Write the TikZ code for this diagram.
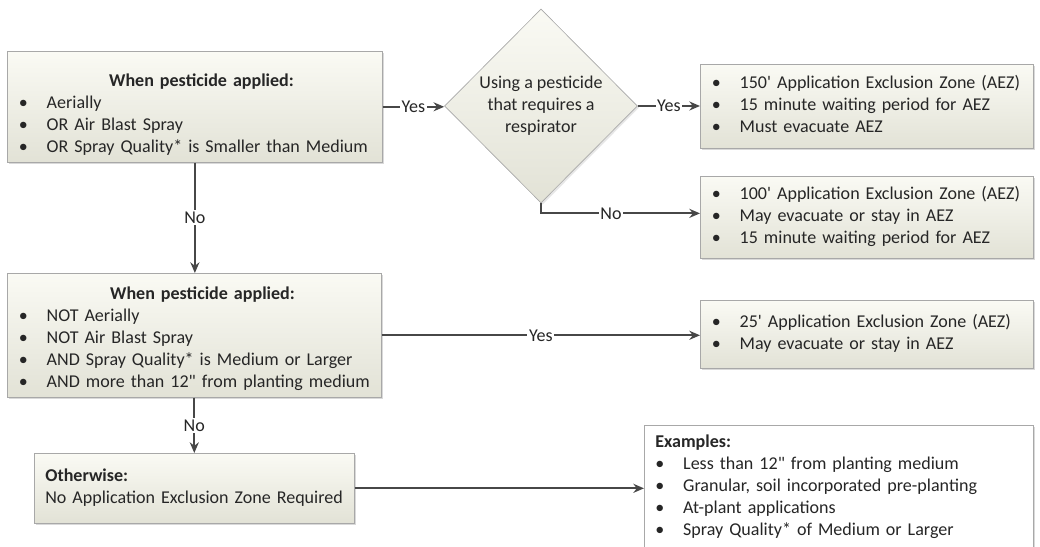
\documentclass[tikz,border=0pt]{standalone}
\usepackage{fontspec}
\setmainfont{Carlito}
\usepackage{xcolor}
\usepackage{tikz}
\usetikzlibrary{shapes,arrows,arrows.meta,positioning,shadows}
\definecolor{boxtop}{HTML}{FAFAF4}
\definecolor{boxbot}{HTML}{E2E2D6}
\definecolor{boxline}{HTML}{A8A8A8}
\definecolor{linegray}{HTML}{474747}
\definecolor{txtgray}{HTML}{262626}
\tikzstyle{block} = [draw=boxline, rectangle, top color=boxtop, bottom color=boxbot,
    drop shadow={opacity=0.3, shadow xshift=1.2pt, shadow yshift=-1.2pt},
    anchor=north west, align=left, inner xsep=7pt, inner ysep=0pt]
\tikzstyle{decision} = [draw=boxline, diamond, top color=boxtop, bottom color=boxbot,
    drop shadow={opacity=0.2, shadow xshift=1pt, shadow yshift=-1pt},
    inner sep=0pt, minimum width=117.7pt, minimum height=118.3pt, align=center]
\tikzstyle{note} = [draw=boxline, rectangle, fill=white,
    drop shadow={opacity=0.3, shadow xshift=1.2pt, shadow yshift=-1.2pt},
    anchor=north west, align=left, inner xsep=6.7pt, inner ysep=4.3pt]
\tikzstyle{answer} = [fill=white, inner sep=1pt]
\tikzstyle{connector} = [-{Stealth[length=6.5pt,width=5.5pt]}, line width=1.1pt, draw=linegray]
\newcommand{\itm}[1]{\makebox[17pt][l]{\textbullet}#1}
\newcommand{\ft}{\textquotesingle}
\newcommand{\inch}{\textquotedbl}

\begin{document}
\begin{tikzpicture}[x=0.61pt, y=-0.61pt, text=txtgray,
    font=\fontsize{11}{13.4}\selectfont]
		\useasboundingbox (0,0) rectangle (1040,547);
		% first test
		\node[block, text width=214.8pt, minimum height=67.7pt] (aerial) at (7,51)
			{\raisebox{-4.9pt}[\height][\depth]{\begin{tabular}{@{}l@{}}
			\multicolumn{1}{@{}c@{}}{\hspace{10pt}\bfseries When pesticide applied:}\\
			\itm{Aerially}\\
			\itm{OR Air Blast Spray}\\
			\itm{OR Spray Quality* is Smaller than Medium}
			\end{tabular}}};
		\node[decision] (resp) at (541,106) {Using a pesticide\\that requires a\\respirator};
		\node[block, text width=189.1pt, minimum height=51.2pt] (aez150) at (700,64)
			{\begin{tabular}{@{}l@{}}
			\itm{150\ft{} Application Exclusion Zone (AEZ)}\\
			\itm{15 minute waiting period for AEZ}\\
			\itm{Must evacuate AEZ}
			\end{tabular}};
		\node[block, text width=189.1pt, minimum height=50pt] (aez100) at (700,176)
			{\begin{tabular}{@{}l@{}}
			\itm{100\ft{} Application Exclusion Zone (AEZ)}\\
			\itm{May evacuate or stay in AEZ}\\
			\itm{15 minute waiting period for AEZ}
			\end{tabular}};

		% second test
		\node[block, text width=214.1pt, minimum height=75.6pt] (ground) at (7,273)
			{\raisebox{-2.4pt}[\height][\depth]{\begin{tabular}{@{}l@{}}
			\multicolumn{1}{@{}c@{}}{\hspace{10pt}\bfseries When pesticide applied:}\\
			\itm{NOT Aerially}\\
			\itm{NOT Air Blast Spray}\\
			\itm{AND Spray Quality* is Medium or Larger}\\
			\itm{AND more than 12\inch{} from planting medium}
			\end{tabular}}};
		\node[block, text width=189.1pt, minimum height=41.5pt] (aez25) at (700,300)
			{\begin{tabular}{@{}l@{}}
			\itm{25\ft{} Application Exclusion Zone (AEZ)}\\
			\itm{May evacuate or stay in AEZ}
			\end{tabular}};

		% no zone
		\node[block, inner xsep=6.7pt, text width=181.8pt, minimum height=42.7pt] (other) at (34,453)
			{\begin{tabular}{@{}l@{}}
			\textbf{Otherwise:}\\
			No Application Exclusion Zone Required
			\end{tabular}};
		\node[note, text width=223.9pt] (examples) at (644,425)
			{\begin{tabular}{@{}l@{}}
			\textbf{Examples:}\\
			\itm{Less than 12\inch{} from planting medium}\\
			\itm{Granular, soil incorporated pre-planting}\\
			\itm{At-plant applications}\\
			\itm{Spray Quality* of Medium or Larger}
			\end{tabular}};

		\draw[connector] (aerial.east) to node[answer] {Yes} (aerial.east -| resp.west);
		\draw[connector] (resp.east) to node[answer] {Yes} (resp.east -| aez150.west);
		\draw[connector] (resp.south) |- node[answer, pos=0.72] {No} ([yshift=2.4pt]aez100.west);
		\draw[connector] (aerial.south) to node[answer] {No} (aerial.south |- ground.north);
		\draw[connector] (ground.east) to node[answer] {Yes} (ground.east -| aez25.west);
		\draw[connector] (ground.south) to node[answer] {No} (ground.south |- other.north);
		\draw[connector] (other.east) to (other.east -| examples.west);
	\end{tikzpicture}
\end{document}
